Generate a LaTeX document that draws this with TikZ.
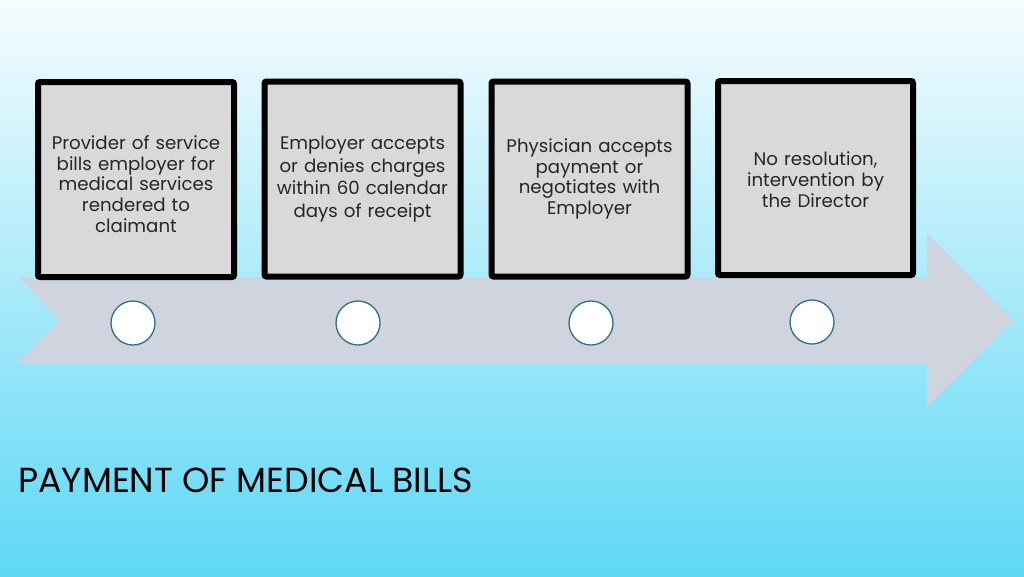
\documentclass[tikz,border=0pt]{standalone}
\usepackage{fontspec}
\setmainfont{Poppins}
\usetikzlibrary{positioning}
\definecolor{arrowgray}{HTML}{CFD4DF}
\definecolor{boxgray}{HTML}{D9D9D9}
\definecolor{ringblue}{HTML}{2F6F8C}
\definecolor{skytop}{HTML}{F6FCFE}
\definecolor{skymid}{HTML}{A6E9F8}
\definecolor{skybottom}{HTML}{5ED8F5}
\tikzset{
    stepbox/.style={draw=black, line width=6pt, fill=boxgray, rounded corners=2pt,
        minimum width=196pt, minimum height=195pt, text width=184pt, align=center,
        inner sep=0pt, text=black!85, font=\fontsize{18.2}{20.7}\selectfont},
    dot/.style={circle, draw=ringblue, line width=1.3pt, fill=white,
        minimum size=44pt, inner sep=0pt}
}
\begin{document}
\begin{tikzpicture}[x=1pt,y=-1pt]
        %Background
            \shade[top color=skytop, middle color=skymid, bottom color=skybottom] (0,0) rectangle (1024,576);
            \useasboundingbox (0,0) rectangle (1024,576);
        %Timeline arrow
            \fill[arrowgray] (18,277) -- (927,277) -- (927,233) -- (1013,320) -- (927,407)
                -- (927,363) -- (18,363) -- (60,320) -- cycle;
        %Steps
            \node[stepbox] (provider) at (136,179.5) {\rule{0pt}{23pt}Provider of service\\ bills employer for\\ medical services\\ rendered to\\ claimant};
            \node[stepbox, font=\fontsize{18.2}{22.6}\selectfont] (employer) at (362.5,179) {Employer accepts\\ or denies charges\\ within 60 calendar\\ days of receipt};
            \node[stepbox] (physician) at (589.5,179) {Physician accepts\\ payment or\\ negotiates with\\ Employer};
            \node[stepbox, minimum width=195pt, minimum height=194pt] (director) at (815.5,178) {\rule{0pt}{17pt}No resolution,\\ intervention by\\ the Director};
        %Markers
            \node[dot] (mark1) at (133,323) {};
            \node[dot] (mark2) at (358,323) {};
            \node[dot] (mark3) at (591,323) {};
            \node[dot] (mark4) at (812,322) {};
        %Title
            \node[anchor=west, inner sep=0pt, font=\fontsize{34.8}{40}\selectfont] (title) at (18,480) {PAYMENT OF MEDICAL BILLS};
\end{tikzpicture}
\end{document}
